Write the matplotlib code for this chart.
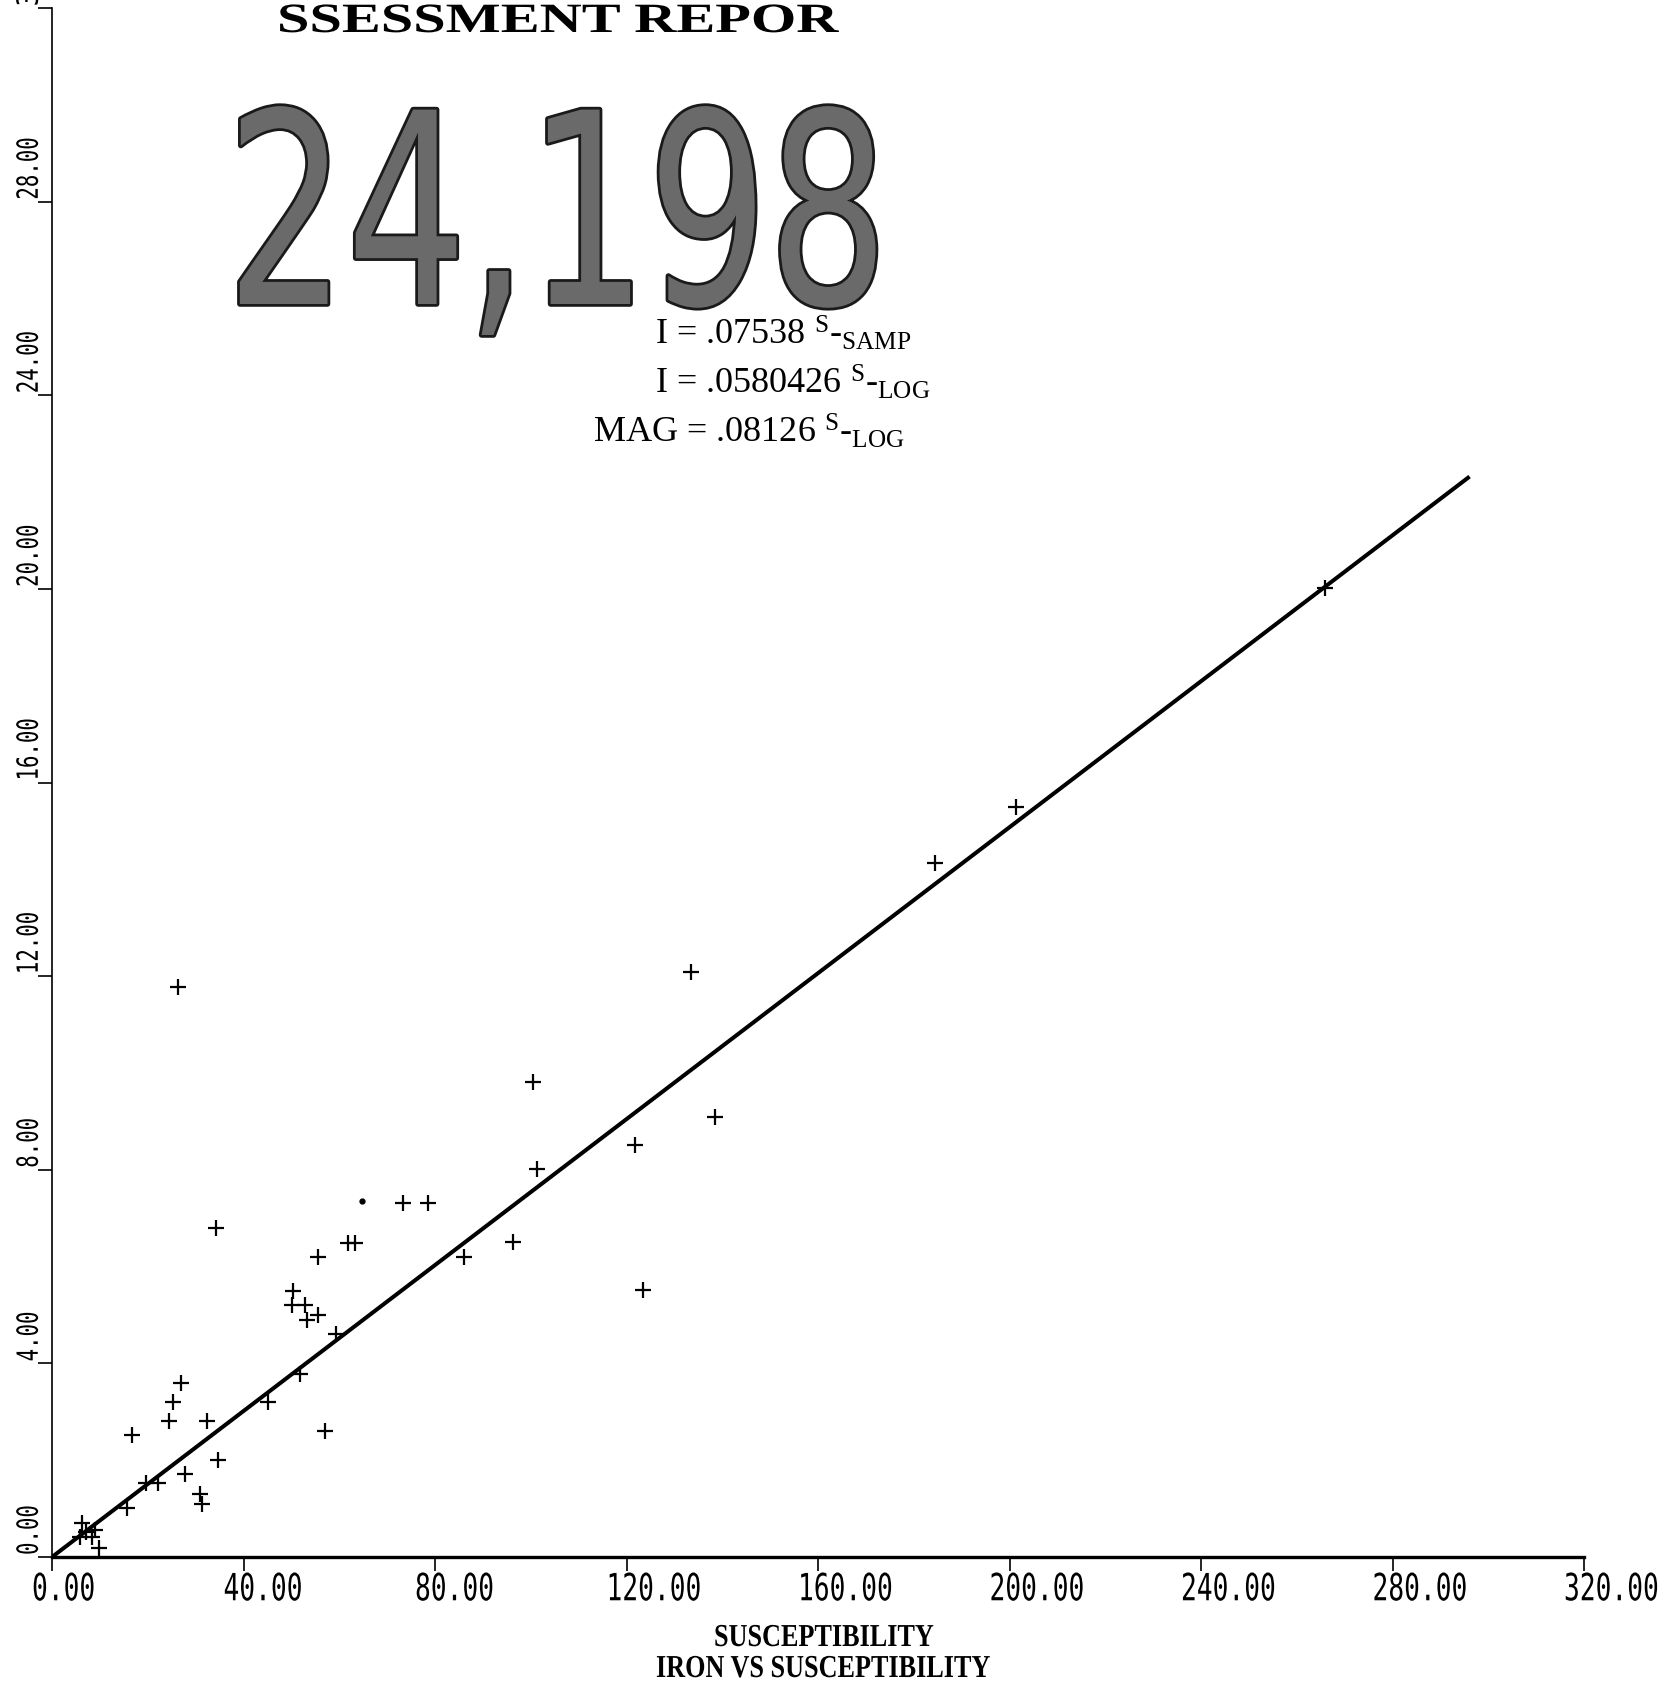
import matplotlib
matplotlib.use("Agg")
import matplotlib.pyplot as plt
import matplotlib.patheffects as pe
from matplotlib.transforms import Affine2D, ScaledTranslation

# ---- data -------------------------------------------------------------
susceptibility = [265.9, 201.3, 184.5, 133.5, 26.3, 100.5, 138.5, 121.8, 101.4,
                  73.4, 78.6, 34.2, 61.8, 63.3, 96.2, 55.5, 86.0, 123.5, 50.4,
                  50.1, 52.8, 53.2, 55.6, 59.3, 51.8, 45.1, 26.9, 25.3, 24.5,
                  32.3, 57.1, 16.8, 34.6, 27.8, 19.6, 22.2, 30.9, 31.3, 15.6,
                  6.2, 5.85, 8.3, 9.0, 9.9, 7.2]
iron = [20.02, 15.50, 14.33, 12.09, 11.78, 9.81, 9.10, 8.51, 8.02,
        7.31, 7.31, 6.80, 6.48, 6.48, 6.51, 6.20, 6.20, 5.52, 5.50,
        5.20, 5.20, 4.90, 4.99, 4.60, 3.78, 3.20, 3.60, 3.20, 2.80,
        2.80, 2.60, 2.52, 2.00, 1.71, 1.52, 1.52, 1.30, 1.10, 1.01,
        0.71, 0.42, 0.42, 0.56, 0.18, 0.52]
dot_susceptibility = [64.8]
dot_iron = [7.36]

fit_slope = 0.07538
fit_x_range = [0.0, 296.1]

x_ticks = [0, 40, 80, 120, 160, 200, 240, 280, 320]
x_tick_labels = ["0.00", "40.00", "80.00", "120.00", "160.00",
                 "200.00", "240.00", "280.00", "320.00"]
y_ticks = [0, 4, 8, 12, 16, 20, 24, 28, 32]
y_tick_labels = ["0.00", "4.00", "8.00", "12.00", "16.00",
                 "20.00", "24.00", "28.00", "32.00"]

fit_lines = [
    ("I = .07538 ", "SAMP"),
    ("I = .0580426 ", "LOG"),
    ("MAG = .08126 ", "LOG"),
]


class Squeeze(pe.AbstractPathEffect):
    """Scale glyph outlines along the text direction (narrow/wide lettering)."""

    def __init__(self, sx, inner=None):
        super().__init__()
        self.sx = sx
        self.inner = inner if inner is not None else pe.Normal()

    def draw_path(self, renderer, gc, tpath, affine, rgbFace=None):
        self.inner.draw_path(renderer, gc, tpath,
                             Affine2D().scale(self.sx, 1.0) + affine, rgbFace)


plt.rcParams["mathtext.fontset"] = "custom"
plt.rcParams["mathtext.rm"] = "Liberation Serif"
plt.rcParams["mathtext.it"] = "Liberation Serif:italic"
plt.rcParams["mathtext.bf"] = "Liberation Serif:bold"

tick_family = "DejaVu Sans Mono"

W, H, DPI = 1680, 1682, 100
fig = plt.figure(figsize=(W / DPI, H / DPI), dpi=DPI, facecolor="white")
ax = fig.add_axes([52 / W, 125 / H, 1532 / W, 1549 / H])
ax.set_facecolor("white")

# ---- marks ------------------------------------------------------------
ax.plot(susceptibility, iron, ls="none", marker="+", ms=11.5, mew=1.6,
        color="black", zorder=3)
ax.plot(dot_susceptibility, dot_iron, ls="none", marker="o", ms=3.5,
        color="black", zorder=3)
ax.plot(fit_x_range, [fit_slope * v for v in fit_x_range], color="black",
        lw=2.9, solid_capstyle="butt", zorder=4)

ax.set_xlim(0, 320)
ax.set_ylim(0, 32)

for side in ("top", "right"):
    ax.spines[side].set_visible(False)
ax.spines["left"].set_linewidth(1.2)
ax.spines["bottom"].set_linewidth(2.4)

ax.set_xticks(x_ticks)
ax.set_xticklabels(x_tick_labels)
ax.set_yticks(y_ticks)
ax.set_yticklabels(y_tick_labels)
ax.tick_params(axis="x", direction="out", length=10, width=1.2, pad=1,
               labelsize=27)
ax.tick_params(axis="y", direction="out", length=10, width=1.2, pad=6,
               labelsize=21, labelrotation=90)

for lab in ax.get_xticklabels():
    lab.set_fontfamily(tick_family)
    lab.set_horizontalalignment("left")
    lab.set_path_effects([Squeeze(0.70)])
    lab.set_transform(lab.get_transform() +
                      ScaledTranslation(-20 / DPI, 0, fig.dpi_scale_trans))
for lab in ax.get_yticklabels():
    lab.set_fontfamily(tick_family)
    lab.set_rotation_mode("anchor")
    lab.set_horizontalalignment("left")
    lab.set_verticalalignment("center")
    lab.set_path_effects([Squeeze(0.71)])
    lab.set_transform(lab.get_transform() +
                      ScaledTranslation(0, 2 / DPI, fig.dpi_scale_trans))

# ---- header, stamp and fit annotations ---------------------------------
fig.text(277 / W, 1 - 32 / H, "SSESSMENT REPOR", family="Liberation Serif",
         weight="bold", fontsize=30, ha="left", va="baseline", color="black",
         path_effects=[Squeeze(1.40)])

stamp_sx = 0.71
fig.text(226 / W, 1 - 304 / H, "24,198", family="DejaVu Sans",
         fontsize=192, ha="left", va="baseline", color="#6a6a6a",
         path_effects=[Squeeze(stamp_sx, pe.Stroke(linewidth=4,
                                                   foreground="#1a1a1a")),
                       Squeeze(stamp_sx)])

line_left = [655, 655, 593]
line_base = [345, 394, 443]
for (main, sub), lx, by in zip(fit_lines, line_left, line_base):
    fig.text(lx / W, 1 - by / H,
             main + r"$^{\mathrm{S}}$-$_{\mathrm{" + sub + r"}}$",
             family="Liberation Serif", fontsize=26, ha="left",
             va="baseline", color="black")

# ---- axis titles --------------------------------------------------------
title_sx = 0.82
fig.text(714 / W, 1 - 1646 / H, "SUSCEPTIBILITY", family="Liberation Serif",
         weight="bold", fontsize=23, ha="left", va="baseline",
         path_effects=[Squeeze(title_sx)])
fig.text(656 / W, 1 - 1677 / H, "IRON VS SUSCEPTIBILITY",
         family="Liberation Serif", weight="bold", fontsize=23,
         ha="left", va="baseline", path_effects=[Squeeze(title_sx)])

fig.savefig("out.png", dpi=DPI, facecolor="white")
